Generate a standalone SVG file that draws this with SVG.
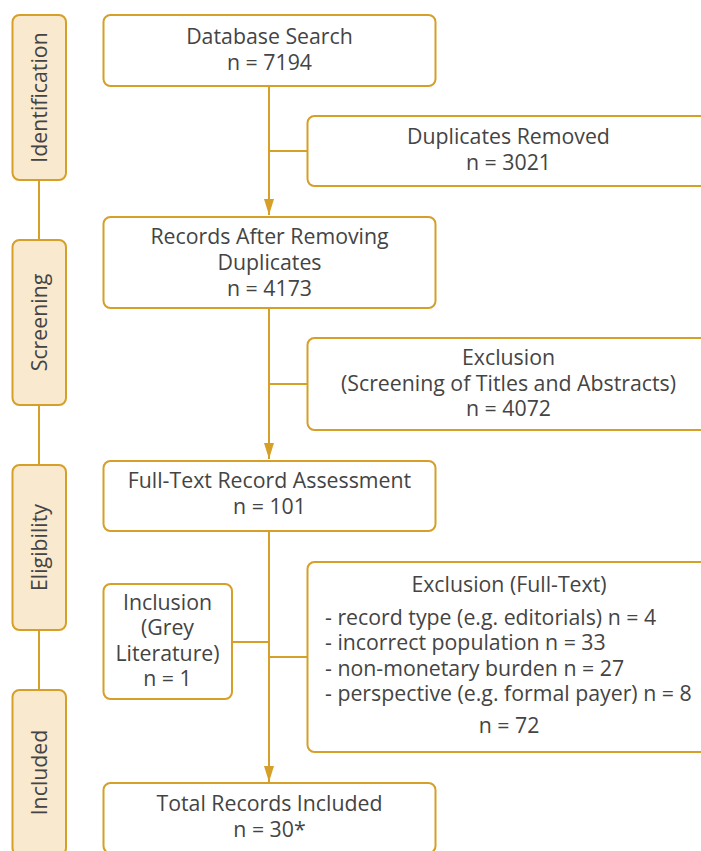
<svg xmlns="http://www.w3.org/2000/svg" width="701" height="851" viewBox="0 0 701 851">
<style>
.b{fill:#fff;stroke:#D69F28;stroke-width:2}
.s{fill:#F9E9CF;stroke:#D69F28;stroke-width:2}
.l{fill:none;stroke:#D69F28;stroke-width:2}
text{font-family:"Open Sans","Noto Sans",sans-serif;font-size:21.3px;fill:#444}
.c{text-anchor:middle}
</style>
<defs>
<marker id="a" viewBox="0 0 16 10" refX="16" refY="5" markerWidth="16" markerHeight="10" markerUnits="userSpaceOnUse" orient="auto">
<path d="M0,0 L16,5 L0,10 Z" fill="#D69F28"/>
</marker>
</defs>
<rect width="701" height="851" fill="#fff"/>
<g id="connectors">
<line class="l" x1="39" y1="180" x2="39" y2="240"/>
<line class="l" x1="39" y1="405" x2="39" y2="465"/>
<line class="l" x1="39" y1="630" x2="39" y2="690"/>
<line class="l" x1="269" y1="86" x2="269" y2="215" marker-end="url(#a)"/>
<line class="l" x1="269" y1="151" x2="307" y2="151"/>
<line class="l" x1="269" y1="308" x2="269" y2="459" marker-end="url(#a)"/>
<line class="l" x1="269" y1="384" x2="307" y2="384"/>
<line class="l" x1="269" y1="531" x2="269" y2="782" marker-end="url(#a)"/>
<line class="l" x1="232" y1="642" x2="269" y2="642"/>
<line class="l" x1="269" y1="657" x2="307" y2="657"/>
</g>
<g id="stage-identification">
<rect class="s" x="12.5" y="15" width="53.5" height="165" rx="7"/>
<text class="c" transform="translate(46.5,97.5) rotate(-90)">Identification</text>
</g>
<g id="stage-screening">
<rect class="s" x="12.5" y="240" width="53.5" height="165" rx="7"/>
<text class="c" transform="translate(46.5,322.5) rotate(-90)">Screening</text>
</g>
<g id="stage-eligibility">
<rect class="s" x="12.5" y="465" width="53.5" height="165" rx="7"/>
<text class="c" transform="translate(46.5,547.5) rotate(-90)">Eligibility</text>
</g>
<g id="stage-included">
<rect class="s" x="12.5" y="690" width="53.5" height="165" rx="7"/>
<text class="c" transform="translate(46.5,772.5) rotate(-90)">Included</text>
</g>
<g id="database-search">
<rect class="b" x="103.5" y="15" width="332" height="71" rx="7"/>
<text class="c" x="269.5" y="44">Database Search</text>
<text class="c" x="269.5" y="70">n = 7194</text>
</g>
<g id="duplicates-removed">
<rect class="b" x="307.5" y="116" width="402" height="70" rx="7"/>
<text class="c" x="508.5" y="144">Duplicates Removed</text>
<text class="c" x="508.5" y="170">n = 3021</text>
</g>
<g id="records-after">
<rect class="b" x="103.5" y="217" width="332" height="91" rx="7"/>
<text class="c" x="269.5" y="244">Records After Removing</text>
<text class="c" x="269.5" y="270">Duplicates</text>
<text class="c" x="269.5" y="296">n = 4173</text>
</g>
<g id="exclusion-screening">
<rect class="b" x="307.5" y="338" width="402" height="92" rx="7"/>
<text class="c" x="508.5" y="365">Exclusion</text>
<text class="c" x="508.5" y="391">(Screening of Titles and Abstracts)</text>
<text class="c" x="508.5" y="416">n = 4072</text>
</g>
<g id="full-text">
<rect class="b" x="103.5" y="461" width="332" height="70" rx="7"/>
<text class="c" x="269.5" y="488">Full-Text Record Assessment</text>
<text class="c" x="269.5" y="514">n = 101</text>
</g>
<g id="inclusion-grey">
<rect class="b" x="103.5" y="584" width="128.5" height="115" rx="7"/>
<text class="c" x="167.5" y="610">Inclusion</text>
<text class="c" x="167.5" y="635">(Grey</text>
<text class="c" x="167.5" y="661">Literature)</text>
<text class="c" x="167.5" y="686">n = 1</text>
</g>
<g id="exclusion-fulltext">
<rect class="b" x="307.5" y="562" width="402" height="190" rx="7"/>
<text class="c" x="509" y="592">Exclusion (Full-Text)</text>
<text x="325" y="625">- record type (e.g. editorials) n = 4</text>
<text x="325" y="650">- incorrect population n = 33</text>
<text x="325" y="676">- non-monetary burden n = 27</text>
<text x="325" y="701">- perspective (e.g. formal payer) n = 8</text>
<text class="c" x="509" y="733">n = 72</text>
</g>
<g id="total-included">
<rect class="b" x="103.5" y="783" width="332" height="70" rx="7"/>
<text class="c" x="269.5" y="811">Total Records Included</text>
<text class="c" x="269.5" y="837">n = 30*</text>
</g>
</svg>
